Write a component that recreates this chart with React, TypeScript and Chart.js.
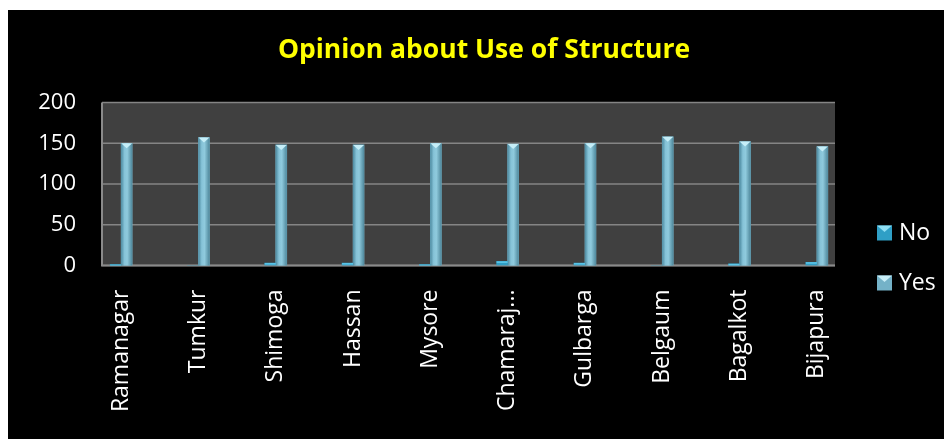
import React, { useEffect, useRef } from "react";
import { Chart, registerables } from "chart.js";

Chart.register(...registerables);

const title = "Opinion about Use of Structure";
const categories = [
  "Ramanagar",
  "Tumkur",
  "Shimoga",
  "Hassan",
  "Mysore",
  "Chamaraj...",
  "Gulbarga",
  "Belgaum",
  "Bagalkot",
  "Bijapura",
];
const seriesNames = ["No", "Yes"];
const noValues = [1, 0, 3, 3, 1, 5, 3, 0, 2, 4];
const yesValues = [150, 157, 148, 148, 150, 149, 150, 158, 152, 146];
const yTicks = [0, 50, 100, 150, 200];

const FONT = "'Open Sans', 'DejaVu Sans', sans-serif";
const NO_COLOR = "#2f9fc6";
const YES_COLOR = "#74b2c8";

const decorPlugin = {
  id: "decor",
  beforeDatasetsDraw(chart: any) {
    const { ctx, scales } = chart;
    const y = scales.y;
    const top = y.getPixelForValue(yTicks[yTicks.length - 1]);
    const bottom = y.getPixelForValue(yTicks[0]);
    const left = 94;
    const right = 827;
    ctx.save();
    ctx.fillStyle = "#404040";
    ctx.fillRect(left, top, right - left, bottom - top);
    ctx.strokeStyle = "#858585";
    ctx.lineWidth = 1.5;
    for (const t of yTicks) {
      const py = y.getPixelForValue(t);
      ctx.beginPath();
      ctx.moveTo(left, py);
      ctx.lineTo(right, py);
      ctx.stroke();
    }
    ctx.lineWidth = 2;
    ctx.strokeStyle = "#8a8a8a";
    ctx.beginPath();
    ctx.moveTo(left, top);
    ctx.lineTo(left, bottom);
    ctx.lineTo(right, bottom);
    ctx.stroke();
    ctx.restore();
  },
  afterDatasetsDraw(chart: any) {
    const { ctx } = chart;
    ctx.save();
    const yesMeta = chart.getDatasetMeta(1);
    yesMeta.data.forEach((el: any) => {
      const { x, y, base, width } = el.getProps(["x", "y", "base", "width"], true);
      const l = x - width / 2;
      const r = x + width / 2;
      const g = ctx.createLinearGradient(l, 0, r, 0);
      g.addColorStop(0, "#4d8aa0");
      g.addColorStop(0.3, "#86c3d8");
      g.addColorStop(0.55, "#8fcadd");
      g.addColorStop(1, "#4f889c");
      ctx.fillStyle = g;
      ctx.fillRect(l, y, width, base - y);
      ctx.fillStyle = "#c6eef8";
      ctx.beginPath();
      ctx.moveTo(l, y);
      ctx.lineTo(r, y);
      ctx.lineTo(x, y + 5);
      ctx.closePath();
      ctx.fill();
    });
    const noMeta = chart.getDatasetMeta(0);
    noMeta.data.forEach((el: any) => {
      const { x, y, base, width } = el.getProps(["x", "y", "base", "width"], true);
      if (base - y < 0.5) return;
      ctx.fillStyle = "#5cc6e8";
      ctx.fillRect(x - width / 2, y, width, Math.min(1.5, base - y));
    });
    ctx.fillStyle = "#ffff00";
    ctx.font = `bold 26.5px ${FONT}`;
    ctx.textAlign = "center";
    ctx.textBaseline = "middle";
    ctx.fillText(title, 476, 40);
    const legendColors = [NO_COLOR, YES_COLOR];
    const legendY = [223, 273];
    ctx.font = `23px ${FONT}`;
    ctx.textAlign = "left";
    seriesNames.forEach((name, i) => {
      const cy = legendY[i];
      ctx.fillStyle = legendColors[i];
      ctx.fillRect(869, cy - 7.5, 15, 15);
      ctx.fillStyle = i === 0 ? "#8fe0f5" : "#c8eef8";
      ctx.beginPath();
      ctx.moveTo(869, cy - 7.5);
      ctx.lineTo(884, cy - 7.5);
      ctx.lineTo(876.5, cy - 1);
      ctx.closePath();
      ctx.fill();
      ctx.fillStyle = "#ffffff";
      ctx.fillText(name, 891, cy);
    });
    ctx.restore();
  },
};

export default function App() {
  const canvasRef = useRef<HTMLCanvasElement | null>(null);

  useEffect(() => {
    if (!canvasRef.current) return;
    const chart = new Chart(canvasRef.current, {
      type: "bar",
      data: {
        labels: categories,
        datasets: [
          {
            label: seriesNames[0],
            data: noValues,
            backgroundColor: NO_COLOR,
            barThickness: 11,
          },
          {
            label: seriesNames[1],
            data: yesValues,
            backgroundColor: YES_COLOR,
            barThickness: 11,
          },
        ],
      },
      options: {
        animation: false,
        responsive: true,
        maintainAspectRatio: false,
        layout: { padding: { top: 92.5, right: 96.5, left: 0, bottom: 0 } },
        plugins: {
          legend: { display: false },
          title: { display: false },
          tooltip: { enabled: false },
        },
        scales: {
          x: {
            grid: { display: false, drawTicks: false },
            border: { display: false },
            ticks: {
              color: "#ffffff",
              font: { family: FONT, size: 23 },
              minRotation: 90,
              maxRotation: 90,
              autoSkip: false,
              padding: 24,
            },
            afterFit(scale: any) {
              scale.height = 173.5;
            },
          },
          y: {
            min: yTicks[0],
            max: yTicks[yTicks.length - 1],
            grid: { display: false, drawTicks: false },
            border: { display: false },
            ticks: {
              stepSize: 50,
              color: "#ffffff",
              font: { family: FONT, size: 22 },
              padding: 6.5,
            },
            afterFit(scale: any) {
              scale.width = 74.5;
            },
          },
        },
      },
      plugins: [decorPlugin],
    });
    return () => chart.destroy();
  }, []);

  return (
    <div style={{ paddingTop: 2 }}>
      <div style={{ width: 944, height: 429, background: "#000000", position: "relative" }}>
        <canvas ref={canvasRef} />
      </div>
    </div>
  );
}
